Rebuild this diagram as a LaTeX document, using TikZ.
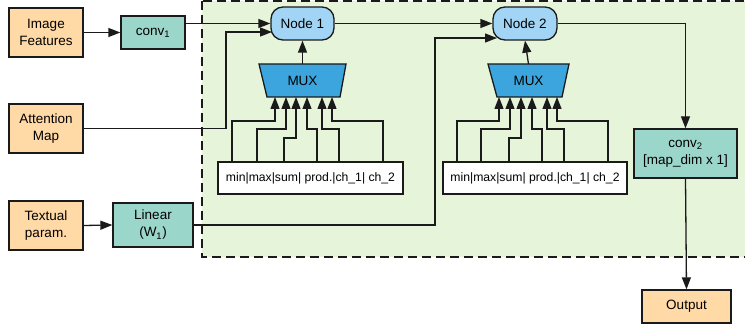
\documentclass[tikz,border=0pt]{standalone}
\usepackage{fontspec}
\setmainfont{Liberation Sans}
\usetikzlibrary{arrows.meta}
\definecolor{orngC}{HTML}{FFD9A6}
\definecolor{tealC}{HTML}{9BD6CA}
\definecolor{nodeC}{HTML}{A2D5F5}
\definecolor{muxC}{HTML}{3CA5DD}
\definecolor{greenC}{HTML}{E6F4DA}
\definecolor{lineC}{HTML}{1A1A1A}
\begin{document}
\begin{tikzpicture}[x=1pt,y=-1pt,
  box/.style={draw=lineC, line width=1.3pt, inner sep=0pt, align=center,
    font=\fontsize{13.5}{17}\selectfont},
  inbox/.style={box, fill=orngC, minimum width=74pt, minimum height=49pt},
  tbox/.style={box, fill=tealC},
  rnode/.style={box, fill=nodeC, rounded corners=12pt, minimum width=63pt, minimum height=33pt},
  opbox/.style={box, fill=white, minimum width=185pt, minimum height=32pt,
    font=\fontsize{12.2}{14}\selectfont},
  arr/.style={draw=lineC, line width=1.3pt, -{Triangle[length=12pt,width=9pt]}},
  wire/.style={draw=lineC, line width=1.3pt}]
\useasboundingbox (0,0) rectangle (745,329);

% green dashed region
\draw[draw=lineC, fill=greenC, line width=1.5pt, dash pattern=on 9pt off 5pt] (202,1) rectangle (770,257);

% input boxes
\node[inbox] (img) at (46,32.5) {Image\\Features};
\node[inbox] (att) at (46,128.5) {Attention\\Map};
\node[inbox] (txt) at (46,225.5) {Textual\\param.};

\node[tbox, minimum width=64pt, minimum height=33pt] (conv1) at (153,32.5) {conv\textsubscript{1}};
\node[tbox, minimum width=80pt, minimum height=44pt] (lin) at (153,225) {Linear\\(W\textsubscript{1})};

\node[rnode] (n1) at (302.5,23.5) {Node 1};
\node[rnode, minimum width=64pt] (n2) at (525,23.5) {Node 2};

% MUX shapes
\filldraw[draw=lineC, fill=muxC, line width=1.3pt] (259,64) -- (346,64) -- (340,97) -- (267,97) -- cycle;
\node[font=\fontsize{13.5}{16}\selectfont] (mux1) at (302.5,80.5) {MUX};
\filldraw[draw=lineC, fill=muxC, line width=1.3pt] (488,64) -- (569,64) -- (562,97) -- (497,97) -- cycle;
\node[font=\fontsize{13.5}{16}\selectfont] (mux2) at (528.5,80.5) {MUX};

\node[opbox] (ops1) at (310.5,178) {min|max|sum| prod.|ch\_1| ch\_2};
\node[opbox, minimum width=184pt] (ops2) at (535,178) {min|max|sum| prod.|ch\_1| ch\_2};

\node[tbox, minimum width=103pt, minimum height=49pt] (conv2) at (685.5,153.5) {conv\textsubscript{2}\\{}[map\_dim x 1]};
\node[box, fill=orngC, minimum width=89pt, minimum height=33pt] (out) at (686.5,306.5) {Output};

% main connectors
\draw[arr] (img.east |- conv1.west) -- (conv1.west);
\draw[arr] (txt.east) -- (lin.west);
\draw[arr] (conv1.east |- n1.west) -- (n1.west);
\draw[arr] (att.east) -- (226,0 |- att.east) |- (272,32);
\draw[arr] (n1.east) -- (n2.west);
\draw[arr] (lin.east) -- (435,0 |- lin.east) |- (497,38);
\draw[arr] (n2.east) -| (conv2.north);
\draw[arr] (conv2.south) -- (out.north);
\draw[arr] (302.5,64) -- (n1.south);
\draw[arr] (528.5,64) -- (n2.south);

% MUX 1 inputs
\draw[arr] (232,0 |- ops1.north) -- (232,121) -| (275,97);
\draw[arr] (257,0 |- ops1.north) -- (257,129) -| (286,97);
\draw[arr] (284,0 |- ops1.north) -- (284,138) -| (296,97);
\draw[arr] (317,0 |- ops1.north) -- (317,129) -| (307,97);
\draw[arr] (339,0 |- ops1.north) -- (339,129) -| (322,97);
\draw[arr] (383,0 |- ops1.north) -- (383,121) -| (332,97);

% MUX 2 inputs
\draw[arr] (457,0 |- ops2.north) -- (457,121) -| (499,97);
\draw[arr] (481,0 |- ops2.north) -- (481,129) -| (510,97);
\draw[arr] (509,0 |- ops2.north) -- (509,138) -| (521,97);
\draw[arr] (542,0 |- ops2.north) -- (542,129) -| (532,97);
\draw[arr] (564,0 |- ops2.north) -- (564,129) -| (547,97);
\draw[arr] (608,0 |- ops2.north) -- (608,121) -| (557,97);
\end{tikzpicture}
\end{document}
